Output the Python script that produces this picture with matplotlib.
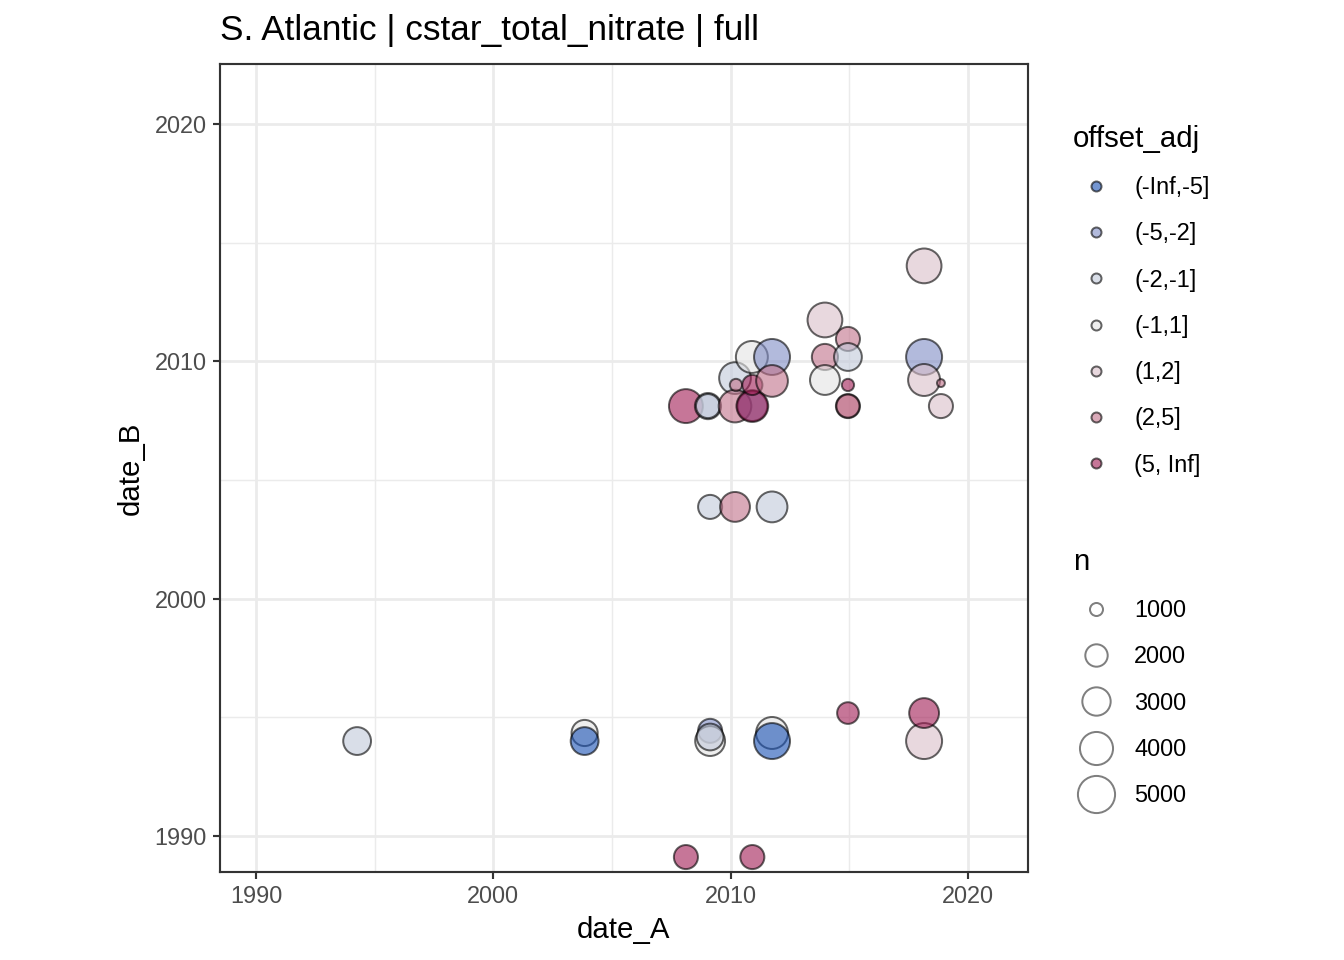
import numpy as np
import matplotlib
matplotlib.use("Agg")
import matplotlib.pyplot as plt
from matplotlib.lines import Line2D
from matplotlib.ticker import MultipleLocator

plt.rcParams['font.family'] = ['Liberation Sans', 'DejaVu Sans']

# data
bins = ["(-Inf,-5]", "(-5,-2]", "(-2,-1]", "(-1,1]", "(1,2]", "(2,5]", "(5, Inf]"]
bin_colors = ["#1850B4", "#7F8CC5", "#C1C8D9", "#E3E3E3", "#D9BEC8", "#C1718A", "#A01B53"]

date_A = [1994.26, 2003.85, 2003.85, 2009.14, 2009.14, 2009.14,
          2011.75, 2011.75, 2018.16, 2014.95, 2018.16, 2008.12, 2010.92,
          2009.14, 2010.19, 2011.75,
          2008.12, 2009.05, 2009.05, 2010.19, 2010.19, 2010.92, 2010.92,
          2010.23, 2010.92, 2010.90, 2011.75, 2011.75,
          2013.98, 2013.98, 2013.98, 2014.95, 2014.95, 2014.95, 2014.95, 2014.95,
          2018.16, 2018.16, 2018.16, 2018.87, 2018.87]
date_B = [1994.00, 1994.34, 1994.00, 1994.43, 1994.00, 1994.17,
          1994.34, 1994.00, 1994.00, 1995.18, 1995.18, 1989.11, 1989.11,
          2003.87, 2003.87, 2003.87,
          2008.12, 2008.12, 2008.12, 2009.30, 2008.12, 2008.12, 2008.12,
          2009.01, 2009.01, 2010.19, 2010.19, 2009.18,
          2011.75, 2010.19, 2009.22, 2010.95, 2010.19, 2009.01, 2008.12, 2008.12,
          2014.03, 2010.19, 2009.22, 2009.09, 2008.12]
offset_adj = ["(-2,-1]", "(-1,1]", "(-Inf,-5]", "(-5,-2]", "(-1,1]", "(-2,-1]",
              "(-1,1]", "(-Inf,-5]", "(1,2]", "(5, Inf]", "(5, Inf]", "(5, Inf]", "(5, Inf]",
              "(-2,-1]", "(2,5]", "(-2,-1]",
              "(5, Inf]", "(-2,-1]", "(-2,-1]", "(-2,-1]", "(2,5]", "(-5,-2]", "(5, Inf]",
              "(2,5]", "(5, Inf]", "(-1,1]", "(-5,-2]", "(2,5]",
              "(1,2]", "(2,5]", "(-1,1]", "(2,5]", "(-2,-1]", "(5, Inf]", "(2,5]", "(2,5]",
              "(1,2]", "(-5,-2]", "(1,2]", "(2,5]", "(1,2]"]
n = [2900, 2600, 2900, 2250, 3300, 2700,
     3750, 4700, 4700, 1900, 3300, 2250, 2250,
     2250, 3300, 3500,
     4200, 2600, 2250, 3700, 3900, 3300, 3700,
     950, 1700, 3750, 4700, 3700,
     4400, 2600, 3300, 2250, 2900, 950, 2250, 2100,
     4400, 4700, 3750, 750, 2250]

n_breaks = [1000, 2000, 3000, 4000, 5000]

DPI = 192


def diam_pt(v):
    return (4.35 + 0.5 * np.sqrt(np.asarray(v, dtype=float) - 700)) * 72 / DPI


color_of = dict(zip(bins, bin_colors))

fig = plt.figure(figsize=(7, 5), dpi=DPI)
ax = fig.add_axes([220 / 1344, 88 / 960, 808 / 1344, 808 / 960])

ax.scatter(date_A, date_B, s=diam_pt(n) ** 2, c=[color_of[b] for b in offset_adj],
           edgecolors='black', linewidths=0.75, alpha=0.6, zorder=3)

lim = (1988.48, 2022.54)
ax.set_xlim(lim)
ax.set_ylim(lim)
for axis in (ax.xaxis, ax.yaxis):
    axis.set_major_locator(MultipleLocator(10))
    axis.set_minor_locator(MultipleLocator(5))
ax.grid(which='major', color='#EBEBEB', linewidth=1.05, zorder=0)
ax.grid(which='minor', color='#EBEBEB', linewidth=0.55, zorder=0)
ax.set_axisbelow(True)
ax.tick_params(which='major', length=2.75, width=0.8, color='#333333',
               labelsize=8.8, labelcolor='#4D4D4D', pad=2.2)
ax.tick_params(which='minor', length=0)
for s in ax.spines.values():
    s.set_color('#333333')
    s.set_linewidth(0.8)

ax.set_xlabel('date_A', fontsize=11, labelpad=3)
ax.set_ylabel('date_B', fontsize=11, labelpad=3.5)
ax.set_title('S. Atlantic | cstar_total_nitrate | full', loc='left', fontsize=13.2, pad=9)

h1 = [Line2D([], [], marker='o', linestyle='none', markersize=3.75,
             markerfacecolor=c, markeredgecolor='black', markeredgewidth=0.75, alpha=0.6)
      for c in bin_colors]
leg1 = fig.legend(h1, bins, title='offset_adj', loc='upper left',
                  bbox_to_anchor=(1073 / 1344, 1 - 125 / 960), frameon=False,
                  fontsize=8.8, title_fontsize=11, alignment='left', borderpad=0,
                  borderaxespad=0, handlelength=2, handletextpad=0.6, labelspacing=0.99)

h2 = [Line2D([], [], marker='o', linestyle='none', markersize=float(diam_pt(v)),
             markerfacecolor='white', markeredgecolor='black', markeredgewidth=0.75, alpha=0.5)
      for v in n_breaks]
leg2 = fig.legend(h2, [str(v) for v in n_breaks], title='n', loc='upper left',
                  bbox_to_anchor=(1073 / 1344, 1 - 548 / 960), frameon=False,
                  fontsize=8.8, title_fontsize=11, alignment='left', borderpad=0,
                  borderaxespad=0, handlelength=2, handletextpad=0.6, labelspacing=0.99)

fig.savefig('out.png', dpi=DPI)
